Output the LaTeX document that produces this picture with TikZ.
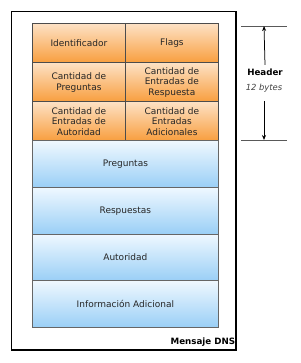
\documentclass[tikz,border=0pt]{standalone}
\usepackage{fontspec}
\setmainfont{DejaVu Sans}
\usetikzlibrary{arrows.meta}

\definecolor{hdrtop}{HTML}{FDE1C4}
\definecolor{hdrbot}{HTML}{F89E3E}
\definecolor{sectop}{HTML}{EFF8FF}
\definecolor{secbot}{HTML}{9ACFF6}

\tikzset{every picture/.style={line width=0.75pt}}
\tikzset{
  cellfont/.style={font=\fontsize{9}{10.5}\selectfont, text=black!85},
  lblfont/.style={font=\fontsize{8.7}{10}\selectfont\bfseries},
  hdrcell/.style={cellfont, draw=black!70, top color=hdrtop, bottom color=hdrbot,
    minimum width=93pt, minimum height=39pt, inner sep=0pt, anchor=north west, align=center},
  seccell/.style={cellfont, draw=black!60, top color=sectop, bottom color=secbot,
    minimum width=186pt, minimum height=46.6pt, inner sep=0pt, anchor=north west, align=center},
  guide/.style={draw=black!65, line width=0.8pt}
}

\begin{document}
\begin{tikzpicture}[x=1pt, y=-1pt, >={Stealth[length=5pt,width=4pt]}]
\useasboundingbox (0,0) rectangle (300,363);

\draw[line width=1.3pt] (11.5,11.5) rectangle (236,350);

% header
\node[hdrcell] (ident) at (32,23.5) {Identificador};
\node[hdrcell] (flags) at (125,23.5) {Flags};
\node[hdrcell] (cpreg) at (32,62.5) {Cantidad de\\Preguntas};
\node[hdrcell] (cresp) at (125,62.5) {Cantidad de\\Entradas de\\Respuesta};
\node[hdrcell] (caut) at (32,101.5) {Cantidad de\\Entradas de\\Autoridad};
\node[hdrcell] (cadic) at (125,101.5) {Cantidad de\\Entradas\\Adicionales};

% secciones
\node[seccell] (preg) at (32,140.5) {Preguntas};
\node[seccell] (resp) at (32,187.1) {Respuestas};
\node[seccell] (aut) at (32,233.7) {Autoridad};
\node[seccell] (info) at (32,280.3) {Información Adicional};

\node[lblfont, anchor=base east, inner sep=0pt] (msg) at (235.5,344) {Mensaje DNS};

% tamano del header
\coordinate (hdrtop) at (264,26);
\coordinate (hdrbot) at (264,140);
\draw[guide] (241,26) -- (287,26);
\draw[guide] (241,140) -- (287,140);

\node[lblfont] (hdr) at (265,72) {Header};
\node[font=\fontsize{8.4}{10}\selectfont\itshape, text=black!75] (hdrsize) at (264,88) {12 bytes};

\draw[->] (hdr.north) -- (hdrtop);
\draw[->, shorten <=5pt] (hdrsize.south) -- (hdrbot);

\end{tikzpicture}
\end{document}
